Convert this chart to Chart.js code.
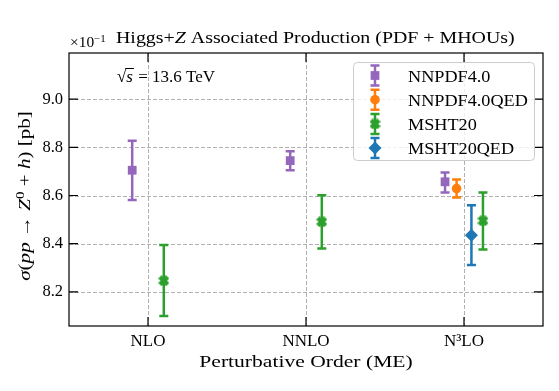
<!DOCTYPE html>
<html>
<head>
<meta charset="utf-8">
<script src="https://cdn.jsdelivr.net/npm/chart.js@4/dist/chart.umd.min.js"></script>
<style>
  html, body { margin: 0; padding: 0; background: #fff; }
  #wrap { width: 559px; height: 391px; }
</style>
</head>
<body>
<div id="wrap"><canvas id="chart" width="559" height="391"></canvas></div>
<script>
// ---- data (units: 10^-1 pb) ----
const orders = ['NLO', 'NNLO', 'N³LO'];
const yTicks = [8.2, 8.4, 8.6, 8.8, 9.0];

const nnpdfCentral = [8.705, 8.745, 8.657];
const nnpdfLow     = [8.581, 8.705, 8.613];
const nnpdfHigh    = [8.827, 8.784, 8.696];
const nnpdfShift   = [-0.1, -0.1, -0.12];

const nnpdfQedCentral = [null, null, 8.629];
const nnpdfQedLow     = [null, null, 8.592];
const nnpdfQedHigh    = [null, null, 8.667];
const nnpdfQedShift   = [0, 0, -0.047];

const mshtCentral = [8.246, 8.491, 8.495];
const mshtLow     = [8.100, 8.380, 8.376];
const mshtHigh    = [8.394, 8.601, 8.613];
const mshtShift   = [0.1, 0.1, 0.12];

const mshtQedCentral = [null, null, 8.435];
const mshtQedLow     = [null, null, 8.311];
const mshtQedHigh    = [null, null, 8.560];
const mshtQedShift   = [0, 0, 0.047];

const SERIF = "'Liberation Serif', 'DejaVu Serif', serif";
const C = { purple: '#9467bd', orange: '#ff7f0e', green: '#2ca02c', blue: '#1f77b4' };

// filled "X" marker (matplotlib 'X')
function xMarker(color, size) {
  const c = document.createElement('canvas');
  c.width = c.height = size;
  const g = c.getContext('2d');
  g.translate(size / 2, size / 2);
  g.rotate(Math.PI / 4);
  const a = size * 0.5, b = a * 0.42;
  g.beginPath();
  g.moveTo(-b, -a); g.lineTo(b, -a); g.lineTo(b, -b); g.lineTo(a, -b);
  g.lineTo(a, b); g.lineTo(b, b); g.lineTo(b, a); g.lineTo(-b, a);
  g.lineTo(-b, b); g.lineTo(-a, b); g.lineTo(-a, -b); g.lineTo(-b, -b);
  g.closePath();
  g.fillStyle = color;
  g.fill();
  return c;
}
const greenX = xMarker(C.green, 11);

function points(central, low, high, shift) {
  const out = [];
  central.forEach((v, i) => {
    if (v === null) return;
    out.push({ x: i + shift[i], y: v, lo: low[i], hi: high[i] });
  });
  return out;
}

const series = [
  { label: 'NNPDF4.0',    color: C.purple, style: 'rect',    radius: 6.2, data: points(nnpdfCentral, nnpdfLow, nnpdfHigh, nnpdfShift) },
  { label: 'NNPDF4.0QED', color: C.orange, style: 'circle',  radius: 4.8, data: points(nnpdfQedCentral, nnpdfQedLow, nnpdfQedHigh, nnpdfQedShift) },
  { label: 'MSHT20',      color: C.green,  style: greenX,    radius: 5,   data: points(mshtCentral, mshtLow, mshtHigh, mshtShift) },
  { label: 'MSHT20QED',   color: C.blue,   style: 'rectRot', radius: 6.5, data: points(mshtQedCentral, mshtQedLow, mshtQedHigh, mshtQedShift) }
];

// text with italic / superscript runs; sx widens the glyphs (Computer Modern is wider than Times)
function rich(ctx, runs, x, y, size, align, sx) {
  sx = sx || 1;
  const fontOf = r => (r.it ? 'italic ' : '') + Math.round((r.sup ? 0.7 : 1) * (r.size || size)) + 'px ' + SERIF;
  let total = 0;
  runs.forEach(r => { ctx.font = fontOf(r); total += ctx.measureText(r.t).width; });
  ctx.save();
  ctx.translate(x, y);
  ctx.scale(sx, 1);
  let cx = align === 'center' ? -total / 2 : 0;
  ctx.textAlign = 'left';
  ctx.textBaseline = 'alphabetic';
  runs.forEach(r => {
    ctx.font = fontOf(r);
    ctx.fillText(r.t, cx, -(r.sup ? (r.size || size) * 0.38 : 0));
    cx += ctx.measureText(r.t).width;
  });
  ctx.restore();
}

function drawMarker(ctx, style, color, radius, x, y) {
  if (typeof style !== 'string') {
    ctx.drawImage(style, x - style.width / 2, y - style.height / 2);
    return;
  }
  ctx.fillStyle = color;
  ctx.beginPath();
  if (style === 'rect') {
    const s = radius * Math.SQRT1_2;
    ctx.rect(x - s, y - s, 2 * s, 2 * s);
  } else if (style === 'circle') {
    ctx.arc(x, y, radius, 0, Math.PI * 2);
  } else {
    ctx.moveTo(x - radius, y); ctx.lineTo(x, y - radius);
    ctx.lineTo(x + radius, y); ctx.lineTo(x, y + radius);
    ctx.closePath();
  }
  ctx.fill();
}

function errBar(ctx, color, x, yTop, yBot) {
  ctx.save();
  ctx.strokeStyle = color;
  ctx.lineWidth = 2.5;
  ctx.beginPath();
  ctx.moveTo(x, yTop); ctx.lineTo(x, yBot);
  ctx.moveTo(x - 4.5, yTop); ctx.lineTo(x + 4.5, yTop);
  ctx.moveTo(x - 4.5, yBot); ctx.lineTo(x + 4.5, yBot);
  ctx.stroke();
  ctx.restore();
}

const decor = {
  id: 'decor',
  beforeDatasetsDraw(chart) {
    const { ctx, chartArea: a, scales: { x, y } } = chart;
    ctx.save();
    ctx.strokeStyle = '#b0b0b0';
    ctx.lineWidth = 1;
    ctx.setLineDash([4, 2]);
    ctx.beginPath();
    yTicks.forEach(v => { const py = Math.round(y.getPixelForValue(v)) + 0.5; ctx.moveTo(a.left, py); ctx.lineTo(a.right, py); });
    orders.forEach((_, i) => { const px = Math.round(x.getPixelForValue(i)) + 0.5; ctx.moveTo(px, a.top); ctx.lineTo(px, a.bottom); });
    ctx.stroke();
    ctx.restore();
    // error bars under the markers
    chart.data.datasets.forEach((ds, d) => {
      chart.getDatasetMeta(d).data.forEach((el, j) => {
        const p = ds.data[j];
        errBar(ctx, ds.borderColor, el.x, y.getPixelForValue(p.hi), y.getPixelForValue(p.lo));
      });
    });
  },
  afterDatasetsDraw(chart) {
    const { ctx, chartArea: a, scales: { x, y } } = chart;
    ctx.save();
    // frame and inward ticks
    ctx.strokeStyle = '#000';
    ctx.lineWidth = 1.2;
    ctx.strokeRect(a.left, a.top, a.right - a.left, a.bottom - a.top);
    ctx.beginPath();
    yTicks.forEach(v => {
      const py = y.getPixelForValue(v);
      ctx.moveTo(a.left, py); ctx.lineTo(a.left + 9, py);
      ctx.moveTo(a.right, py); ctx.lineTo(a.right - 9, py);
    });
    orders.forEach((_, i) => {
      const px = x.getPixelForValue(i);
      ctx.moveTo(px, a.bottom); ctx.lineTo(px, a.bottom - 9);
      ctx.moveTo(px, a.top); ctx.lineTo(px, a.top + 9);
    });
    ctx.stroke();

    ctx.fillStyle = '#000';
    // title
    rich(ctx, [{ t: '×10' }, { t: '−1', sup: true }], 70, 47, 14, 'left', 1.1);
    rich(ctx, [{ t: 'Higgs+' }, { t: 'Z', it: true }, { t: ' Associated Production (PDF + MHOUs)' }], 116, 43, 16.5, 'left', 1.17);

    // sqrt(s) annotation
    ctx.font = '17px ' + SERIF;
    ctx.textAlign = 'left';
    ctx.fillText('√', 117, 82);
    const rw = ctx.measureText('√').width;
    ctx.font = 'italic 17px ' + SERIF;
    ctx.fillText('s', 117 + rw, 82);
    const sw = ctx.measureText('s').width;
    ctx.lineWidth = 1;
    ctx.beginPath();
    ctx.moveTo(117 + rw - 1, 68.5); ctx.lineTo(117 + rw + sw + 1, 68.5);
    ctx.stroke();
    ctx.font = '17px ' + SERIF;
    ctx.fillText(' = 13.6 TeV', 117 + rw + sw + 1, 82);

    // axis titles
    rich(ctx, [{ t: 'Perturbative Order (ME)' }], (a.left + a.right) / 2, 367, 17, 'center', 1.27);
    ctx.save();
    ctx.translate(30, 196);
    ctx.rotate(-Math.PI / 2);
    rich(ctx, [{ t: 'σ', it: true }, { t: '(' }, { t: 'pp', it: true }, { t: ' → ' }, { t: 'Z', it: true },
               { t: '0', sup: true }, { t: ' + ' }, { t: 'h', it: true }, { t: ') [pb]' }], 0, 0, 16.5, 'center', 1.24);
    ctx.restore();

    // legend
    const lx = 353, ly = 62, lw = 181, lh = 98;
    ctx.fillStyle = 'rgba(255,255,255,0.8)';
    ctx.strokeStyle = '#cccccc';
    ctx.lineWidth = 1;
    ctx.beginPath();
    ctx.roundRect(lx + 0.5, ly + 0.5, lw, lh, 4);
    ctx.fill();
    ctx.stroke();
    series.forEach((s, i) => {
      const cy = 75.5 + i * 24.2;
      errBar(ctx, s.color, 375, cy - 10, cy + 10);
      drawMarker(ctx, s.style, s.color, s.radius, 375, cy);
      ctx.fillStyle = '#000';
      rich(ctx, [{ t: s.label }], 408, cy + 6, 16.5, 'left', 1.07);
    });
    ctx.restore();
  }
};

new Chart(document.getElementById('chart'), {
  type: 'scatter',
  data: {
    datasets: series.map(s => ({
      label: s.label,
      data: s.data,
      borderColor: s.color,
      backgroundColor: s.color,
      pointStyle: s.style,
      pointRadius: s.radius,
      pointHoverRadius: s.radius,
      pointBorderWidth: 0
    }))
  },
  options: {
    responsive: false,
    animation: false,
    devicePixelRatio: 1,
    layout: { padding: { top: 53, right: 16, left: 0, bottom: 0 } },
    plugins: { legend: { display: false }, tooltip: { enabled: false } },
    scales: {
      x: {
        type: 'linear',
        min: -0.5,
        max: 2.5,
        afterFit: s => { s.height = 65; },
        afterBuildTicks: s => { s.ticks = orders.map((_, i) => ({ value: i })); },
        grid: { display: false, drawTicks: false },
        border: { display: false },
        ticks: {
          padding: 5,
          color: '#000',
          font: { family: SERIF, size: 17 },
          callback: v => orders[v]
        }
      },
      y: {
        min: 8.058,
        max: 9.192,
        afterFit: s => { s.width = 69; },
        afterBuildTicks: s => { s.ticks = yTicks.map(v => ({ value: v })); },
        grid: { display: false, drawTicks: false },
        border: { display: false },
        ticks: {
          padding: 6,
          color: '#000',
          font: { family: SERIF, size: 16.5 },
          callback: v => v.toFixed(1)
        }
      }
    }
  },
  plugins: [decor]
});
</script>
</body>
</html>
